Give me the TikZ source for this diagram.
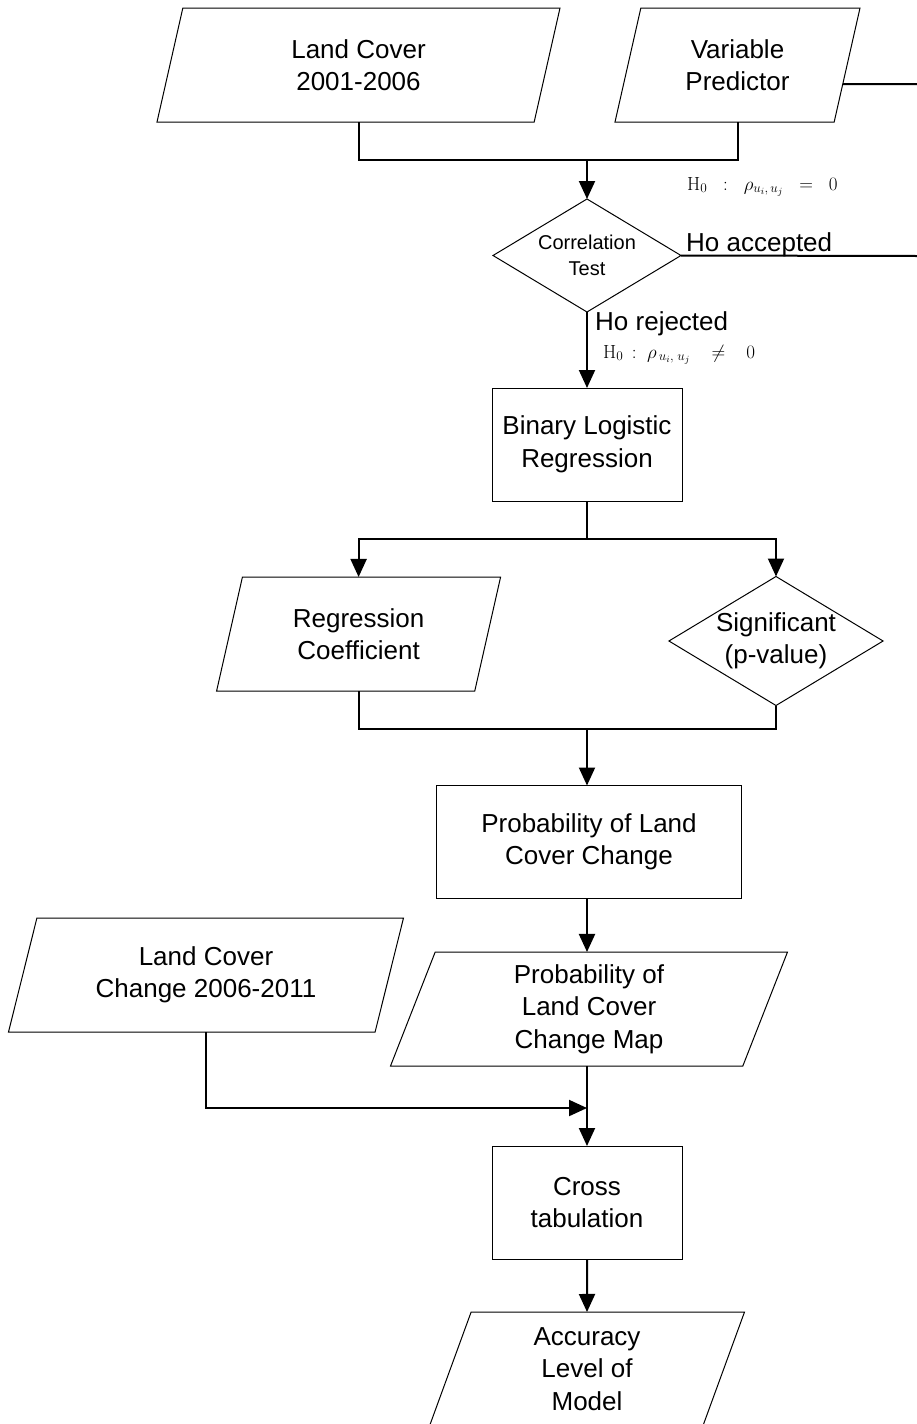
\documentclass[tikz,border=0pt]{standalone}
\usepackage{fix-cm}
\usepackage[no-math]{fontspec}
\setmainfont{Liberation Sans}
\usetikzlibrary{shapes.geometric,arrows.meta,calc}
\tikzset{
  base/.style={draw, line width=1pt, outer sep=0pt, inner sep=0pt, align=center,
    font=\fontsize{26}{32.5}\selectfont},
  io/.style={base, trapezium, trapezium left angle=63.4, trapezium right angle=116.6,
    trapezium stretches body, minimum height=114pt},
  proc/.style={base, rectangle, minimum width=190pt, minimum height=113pt},
  dec/.style={base, diamond, shape aspect=1.66},
  conn/.style={line width=2pt},
  arr/.style={conn, -{Triangle[length=18pt,width=16pt]}},
  lbl/.style={inner sep=0pt, anchor=base west, font=\fontsize{26}{32}\selectfont},
  mlbl/.style={inner sep=0pt, anchor=base west, font=\fontsize{19}{23}\selectfont}
}
\begin{document}
\begin{tikzpicture}[x=1pt,y=-1pt]
\useasboundingbox (0,0) rectangle (917,1424);
% nodes
\node[io, minimum width=403pt] (lc1) at (358.5,65) {Land Cover\\2001-2006};
\node[io, minimum width=245pt] (vp) at (737.5,65) {Variable\\Predictor};
\node[dec, minimum width=188pt, minimum height=113pt, font=\fontsize{20}{26}\selectfont] (ct) at (587,255.5) {Correlation\\Test};
\node[proc] (blr) at (587,444.5) {Binary Logistic\\Regression};
\node[io, minimum width=284pt] (rc) at (358.6,634) {Regression\\Coefficient};
\node[dec, minimum width=213pt, minimum height=128pt] (sig) at (776,641) {Significant\\(p-value)};
\node[proc, minimum width=305pt] (plc) at (589,842) {Probability of Land\\Cover Change};
\node[io, minimum width=397pt] (pm) at (589,1009) {Probability of\\Land Cover\\Change Map};
\node[io, minimum width=395pt] (lcc) at (206,975) {Land Cover\\Change 2006-2011};
\node[proc] (cross) at (587,1202.5) {Cross\\tabulation};
\node[io, minimum width=315pt] (acc) at (587,1369) {Accuracy\\Level of\\Model};
% labels
\node[mlbl] (h0a) at (687,190) {$\mathrm{H}_0\ \ :\ \ \rho_{u_i,\,u_j}\ \ =\ \ 0$};
\node[lbl] (hoa) at (686,251) {Ho accepted};
\node[lbl] (hor) at (595,330) {Ho rejected};
\node[mlbl] (h0r) at (603,358) {$\mathrm{H}_0\,:\ \rho_{\,u_i,\;u_j}\ \ \ \neq\ \ \ 0$};
% coordinates
\coordinate (m1) at (587,160);
\coordinate (m2) at (587,539);
\coordinate (m3) at (587,729);
\coordinate (m4) at (587,1108);
\coordinate (e1) at (917,84);
\coordinate (e2) at (917,256);
% connectors
\draw[conn] (lc1.south) |- (m1) -| (vp.south);
\draw[arr] (m1) -- (ct.north);
\draw[conn] ($(vp.bottom right corner)!0.333!(vp.top right corner)$) -- (e1);
\draw[conn] (ct.east) -- (e2);
\draw[arr] (ct.south) -- (blr.north);
\draw[conn] (blr.south) -- (m2);
\draw[arr] (m2) -| (rc.north);
\draw[arr] (m2) -| (sig.north);
\draw[conn] (rc.south) |- (m3) -| (sig.south);
\draw[arr] (m3) -- (m3 |- plc.north);
\draw[arr] (plc.south -| m3) -- (m3 |- pm.north);
\draw[conn] (pm.south -| m4) -- (m4);
\draw[arr] (lcc.south) |- (m4);
\draw[arr] (m4) -- (m4 |- cross.north);
\draw[arr] (cross.south) -- (acc.north);
\end{tikzpicture}
\end{document}
